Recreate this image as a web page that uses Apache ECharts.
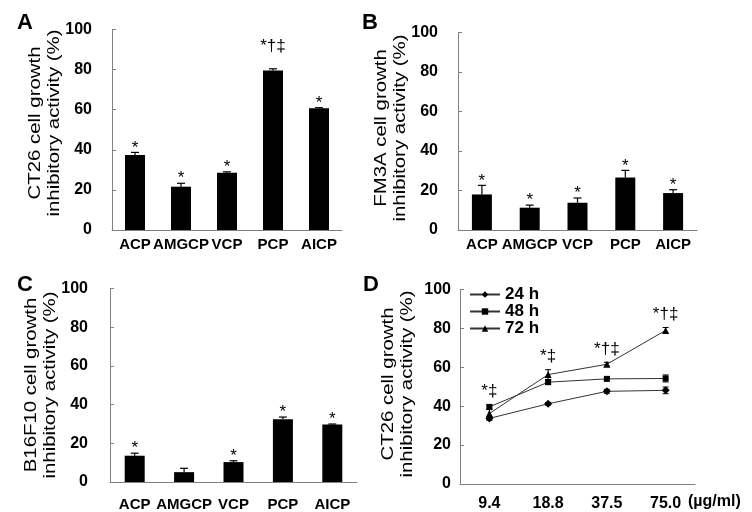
<!DOCTYPE html>
<html>
<head>
<meta charset="utf-8">
<script src="https://cdn.jsdelivr.net/npm/echarts@6/dist/echarts.min.js"></script>
<style>
html,body{margin:0;padding:0;background:#fff;}
#c{width:752px;height:512px;}
</style>
</head>
<body>
<div id="c"></div>
<script>
// ---- data ----
const categories = ['ACP', 'AMGCP', 'VCP', 'PCP', 'AICP'];
const yTickMin = 0, yTickMax = 100, yTickStep = 20;

const valuesA = [37.4, 21.6, 28.5, 79.6, 60.7];
const errorsA = [1.3, 1.7, 0.5, 0.8, 0.3];
const notesA = ['*', '*', '*', '*\u2020\u2021', '*'];

const valuesB = [18.0, 11.3, 13.8, 26.6, 18.7];
const errorsB = [4.6, 1.3, 2.4, 3.6, 1.7];
const notesB = ['*', '*', '*', '*', '*'];

const valuesC = [13.6, 5.1, 10.3, 32.5, 29.7];
const errorsC = [1.3, 2.0, 0.7, 1.1, 0.3];
const notesC = ['*', '', '*', '*', '*'];

const doses = ['9.4', '18.8', '37.5', '75.0'];
const series24h = [33.7, 41.2, 47.6, 48.1];
const err24h = [1.0, 0.7, 1.0, 1.7];
const series48h = [39.6, 52.3, 54.0, 54.2];
const err48h = [1.0, 1.2, 0.8, 1.8];
const series72h = [36.2, 56.2, 61.5, 78.9];
const err72h = [2.0, 2.5, 1.0, 1.5];
const notesD = ['*\u2021', '*\u2021', '*\u2020\u2021', '*\u2020\u2021'];

const panelTitlesY = {
  A: 'CT26 cell growth\ninhibitory activity (%)',
  B: 'FM3A cell growth\ninhibitory activity (%)',
  C: 'B16F10 cell growth\ninhibitory activity (%)',
  D: 'CT26 cell growth\ninhibitory activity (%)'
};

// ---- styling ----
const FONT = '"Liberation Sans", Arial, sans-serif';
const axisColor = '#808080';

const chart = echarts.init(document.getElementById('c'), null, {renderer: 'canvas'});

const grids = [
  {left: 112, top: 29.5, width: 230, height: 200.5},   // A
  {left: 458, top: 32.5, width: 239, height: 197.5},   // B
  {left: 110, top: 288.7, width: 247, height: 196.6},  // C
  {left: 460, top: 289.3, width: 235, height: 196}     // D
];

function xAxisCat(gi, data, margin) {
  return {
    type: 'category', gridIndex: gi, data: data, boundaryGap: true,
    axisLine: {lineStyle: {color: axisColor, width: 1}},
    axisTick: {inside: true, length: 4, lineStyle: {color: axisColor}},
    axisLabel: {interval: 0, margin: margin, color: '#000', fontFamily: FONT, fontWeight: 'bold', fontSize: 15},
    splitLine: {show: false}
  };
}
function yAxisVal(gi, margin) {
  return {
    type: 'value', gridIndex: gi, min: yTickMin, max: yTickMax, interval: yTickStep,
    axisLine: {show: true, lineStyle: {color: axisColor, width: 1}},
    axisTick: {show: true, inside: true, length: 4, lineStyle: {color: axisColor}},
    axisLabel: {margin: margin, color: '#000', fontFamily: FONT, fontWeight: 'bold', fontSize: 16},
    splitLine: {show: false}
  };
}

function barSeries(gi, values) {
  return {
    type: 'bar', xAxisIndex: gi, yAxisIndex: gi, data: values, barWidth: 20,
    itemStyle: {color: '#000'}, silent: true, animation: false
  };
}

// upper-only error bars with annotation text above
function barErrSeries(gi, values, errors, notes) {
  return {
    type: 'custom', xAxisIndex: gi, yAxisIndex: gi, silent: true, animation: false,
    data: values.map((v, i) => [i, v, errors[i]]),
    renderItem: function (params, api) {
      const i = api.value(0), v = api.value(1), e = api.value(2);
      const note = notes[i];
      const p0 = api.coord([i, v]);
      const p1 = api.coord([i, v + e]);
      const half = 4;
      const children = [
        {type: 'line', shape: {x1: p0[0], y1: p0[1], x2: p1[0], y2: p1[1]}, style: {stroke: '#000', lineWidth: 1.2}},
        {type: 'line', shape: {x1: p1[0] - half, y1: p1[1], x2: p1[0] + half, y2: p1[1]}, style: {stroke: '#000', lineWidth: 1.2}}
      ];
      if (note) {
        const lift = note.length > 1 ? 14 : -4;
        children.push({type: 'text', x: p1[0], y: p1[1] - lift,
          style: {text: note, fill: '#000', font: '17px ' + FONT, textAlign: 'center', textVerticalAlign: 'bottom'}});
      }
      return {type: 'group', children: children};
    }
  };
}

// symmetric error bars for line panel
function lineErrSeries(values, errors) {
  return {
    type: 'custom', xAxisIndex: 3, yAxisIndex: 3, silent: true, animation: false, z: 1,
    data: values.map((v, i) => [i, v, errors[i]]),
    renderItem: function (params, api) {
      const i = api.value(0), v = api.value(1), e = api.value(2);
      const pt = api.coord([i, v + e]);
      const pb = api.coord([i, v - e]);
      const half = 3;
      const st = {stroke: '#000', lineWidth: 1};
      return {type: 'group', children: [
        {type: 'line', shape: {x1: pt[0], y1: pt[1], x2: pb[0], y2: pb[1]}, style: st},
        {type: 'line', shape: {x1: pt[0] - half, y1: pt[1], x2: pt[0] + half, y2: pt[1]}, style: st},
        {type: 'line', shape: {x1: pb[0] - half, y1: pb[1], x2: pb[0] + half, y2: pb[1]}, style: st}
      ]};
    }
  };
}

// annotations above the highest error bar of panel D
const topsD = doses.map((d, i) => Math.max(series24h[i] + err24h[i], series48h[i] + err48h[i], series72h[i] + err72h[i]));
const annotD = {
  type: 'custom', xAxisIndex: 3, yAxisIndex: 3, silent: true, animation: false,
  data: topsD.map((t, i) => [i, t]),
  renderItem: function (params, api) {
    const i = api.value(0);
    const p = api.coord([i, api.value(1)]);
    return {type: 'text', x: p[0], y: p[1] - 5,
      style: {text: notesD[i], fill: '#000', font: '17px ' + FONT, textAlign: 'center', textVerticalAlign: 'bottom'}};
  }
};

function lineSeries(name, values, symbol, size) {
  return {
    type: 'line', name: name, xAxisIndex: 3, yAxisIndex: 3, data: values,
    symbol: symbol, symbolSize: size, showAllSymbol: true, z: 3,
    itemStyle: {color: '#000'}, lineStyle: {color: '#333', width: 1},
    silent: true, animation: false
  };
}

function yTitle(key, cx, cy) {
  return {
    type: 'text', x: cx, y: cy, rotation: Math.PI / 2, scaleX: 1.2, scaleY: 1, silent: true,
    style: {text: panelTitlesY[key], fill: '#000', font: '17px ' + FONT,
      textAlign: 'center', textVerticalAlign: 'middle', lineHeight: 19.5}
  };
}
function letter(t, x, y) {
  return {type: 'text', x: x, y: y, silent: true,
    style: {text: t, fill: '#000', font: 'bold 22px ' + FONT, textAlign: 'center', textVerticalAlign: 'middle'}};
}

const dX = xAxisCat(3, doses, 12);
dX.axisLabel.fontSize = 16;
dX.name = '(\u00b5g/ml)';
dX.nameLocation = 'end';
dX.nameGap = -7;
dX.nameTextStyle = {color: '#000', fontFamily: FONT, fontWeight: 'bold', fontSize: 16, verticalAlign: 'top', padding: [10, 0, 0, 0]};

const option = {
  animation: false,
  backgroundColor: '#fff',
  grid: grids,
  xAxis: [xAxisCat(0, categories, 7), xAxisCat(1, categories, 7), xAxisCat(2, categories, 15), dX],
  yAxis: [yAxisVal(0, 20), yAxisVal(1, 20), yAxisVal(2, 22), yAxisVal(3, 9)],
  legend: {
    data: ['24 h', '48 h', '72 h'], orient: 'vertical', left: 464, top: 281,
    itemWidth: 30, itemHeight: 8, itemGap: 0, selectedMode: false,
    textStyle: {color: '#000', fontFamily: FONT, fontWeight: 'bold', fontSize: 17}
  },
  graphic: [
    letter('A', 25, 23), letter('B', 370, 23), letter('C', 25, 285), letter('D', 371, 285),
    yTitle('A', 45, 123), yTitle('B', 391, 128), yTitle('C', 41, 385), yTitle('D', 398, 384)
  ],
  series: [
    barSeries(0, valuesA), barErrSeries(0, valuesA, errorsA, notesA),
    barSeries(1, valuesB), barErrSeries(1, valuesB, errorsB, notesB),
    barSeries(2, valuesC), barErrSeries(2, valuesC, errorsC, notesC),
    lineErrSeries(series24h, err24h), lineErrSeries(series48h, err48h), lineErrSeries(series72h, err72h),
    lineSeries('24 h', series24h, 'diamond', 8),
    lineSeries('48 h', series48h, 'rect', 6),
    lineSeries('72 h', series72h, 'triangle', 7),
    annotD
  ]
};
chart.setOption(option);
</script>
</body>
</html>
